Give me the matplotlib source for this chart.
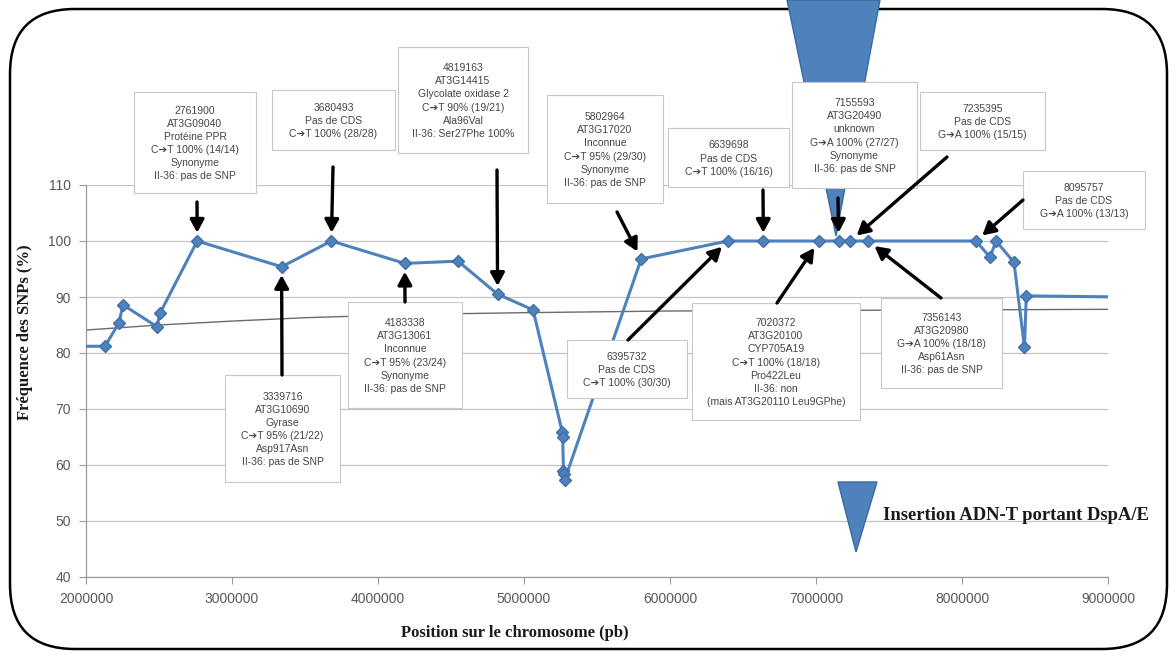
import matplotlib
matplotlib.use("Agg")
from matplotlib import pyplot as plt
from matplotlib.patches import Rectangle, Polygon, FancyBboxPatch
from matplotlib.transforms import Affine2D
from matplotlib.ticker import FuncFormatter

W, H = 1175, 657

# SNP frequency along the chromosome
positions = [1950000, 2130000, 2226000, 2253000, 2486000, 2507000, 2761900,
             3339716, 3680493, 4183338, 4548000, 4819163, 5062000, 5262000,
             5265000, 5270000, 5274000, 5278000, 5802964, 6395732, 6639698,
             7020372, 7155593, 7235395, 7356143, 8095757, 8192000, 8233000,
             8356000, 8428000, 8440000, 9100000]
freqs = [81.2, 81.2, 85.4, 88.6, 84.7, 87.1, 100.0,
         95.4, 100.0, 96.0, 96.4, 90.5, 87.7, 65.9,
         65.0, 59.0, 58.4, 57.3, 96.8, 100.0, 100.0,
         100.0, 100.0, 100.0, 100.0, 100.0, 97.1, 100.0,
         96.2, 81.0, 90.2, 90.0]

# trend line
trend_pos = [2000000, 2500000, 3000000, 3500000, 4000000, 4500000, 5000000,
             6000000, 7000000, 8000000, 9000000]
trend_val = [84.1, 85.0, 85.7, 86.3, 86.7, 87.0, 87.2, 87.5, 87.6, 87.7, 87.8]

xticks = [2000000, 3000000, 4000000, 5000000, 6000000, 7000000, 8000000, 9000000]
yticks = [40, 50, 60, 70, 80, 90, 100, 110]

# annotated SNPs: (position, frequency, label)
snps = [
    (2761900, 100.0, "2761900\nAT3G09040\nProtéine PPR\nC➔T 100% (14/14)\nSynonyme\nII-36: pas de SNP"),
    (3680493, 100.0, "3680493\nPas de CDS\nC➔T 100% (28/28)"),
    (4819163, 90.5, "4819163\nAT3G14415\nGlycolate oxidase 2\nC➔T 90% (19/21)\nAla96Val\nII-36: Ser27Phe 100%"),
    (5802964, 96.8, "5802964\nAT3G17020\nInconnue\nC➔T 95% (29/30)\nSynonyme\nII-36: pas de SNP"),
    (6639698, 100.0, "6639698\nPas de CDS\nC➔T 100% (16/16)"),
    (7155593, 100.0, "7155593\nAT3G20490\nunknown\nG➔A 100% (27/27)\nSynonyme\nII-36: pas de SNP"),
    (7235395, 100.0, "7235395\nPas de CDS\nG➔A 100% (15/15)"),
    (8095757, 100.0, "8095757\nPas de CDS\nG➔A 100% (13/13)"),
    (3339716, 95.4, "3339716\nAT3G10690\nGyrase\nC➔T 95% (21/22)\nAsp917Asn\nII-36: pas de SNP"),
    (4183338, 96.0, "4183338\nAT3G13061\nInconnue\nC➔T 95% (23/24)\nSynonyme\nII-36: pas de SNP"),
    (6395732, 100.0, "6395732\nPas de CDS\nC➔T 100% (30/30)"),
    (7020372, 100.0, "7020372\nAT3G20100\nCYP705A19\nC➔T 100% (18/18)\nPro422Leu\nII-36: non\n(mais AT3G20110 Leu9GPhe)"),
    (7356143, 100.0, "7356143\nAT3G20980\nG➔A 100% (18/18)\nAsp61Asn\nII-36: pas de SNP"),
]

# layout of the callouts in pixels (x0, y0, x1, y1) and arrow tails
boxes = [(134, 92, 256, 193), (272, 90, 395, 150), (398, 47, 528, 153),
         (547, 95, 663, 203), (668, 128, 789, 187), (792, 82, 917, 188),
         (920, 92, 1045, 150), (1023, 171, 1145, 229), (225, 375, 340, 482),
         (348, 302, 462, 408), (567, 340, 687, 398), (692, 303, 860, 420),
         (881, 298, 1002, 388)]
tails = [(197, 202), (333, 167), (497, 170), (617, 212), (763, 190),
         (838, 198), (947, 157), (1023, 200), (282, 375), (405, 302),
         (628, 340), (777, 303), (941, 298)]

blue = "#4F81BD"
serif = ["Liberation Serif", "DejaVu Serif"]
sans = ["Liberation Sans", "DejaVu Sans"]

fig = plt.figure(figsize=(W / 100, H / 100), dpi=100)
px = Affine2D().scale(1 / W, -1 / H).translate(0, 1) + fig.transFigure

ax = fig.add_axes([86 / W, 1 - 577 / H, (1108 - 86) / W, (577 - 185) / H])
ax.set_xlim(2000000, 9000000)
ax.set_ylim(40, 110)
ax.set_xticks(xticks)
ax.set_yticks(yticks)
ax.xaxis.set_major_formatter(FuncFormatter(lambda v, p: "%d" % v))
ax.yaxis.grid(True, color="#c4c4c4", lw=0.9)
ax.set_axisbelow(True)
for s in ["top", "right"]:
    ax.spines[s].set_visible(False)
for s in ["left", "bottom"]:
    ax.spines[s].set_color("#9a9a9a")
    ax.spines[s].set_linewidth(0.9)
ax.tick_params(direction="out", length=5, color="#9a9a9a",
               labelcolor="#595959", labelsize=10, pad=6)
for lab in ax.get_xticklabels() + ax.get_yticklabels():
    lab.set_family(sans)

ax.plot(trend_pos, trend_val, color="#6b6b6b", lw=1.0, zorder=2)
ax.plot(positions, freqs, color=blue, lw=2.2, marker="D", markersize=6.5,
        markerfacecolor=blue, markeredgecolor="#3F6FA8", zorder=4)

# insertion marker (top) and its legend
ax.add_patch(Polygon([(787, 0), (880, 0), (836, 236)], closed=True,
                     transform=px, fc=blue, ec="#3A6AA0", lw=1,
                     zorder=3, clip_on=False))
ax.add_patch(Polygon([(838, 482), (877, 482), (856, 552)], closed=True,
                     transform=px, fc=blue, ec="#3A6AA0", lw=1,
                     zorder=3, clip_on=False))
ax.text(883, 515, "Insertion ADN-T portant DspA/E", transform=px,
        family=serif, fontweight="bold", fontsize=13.4, color="#1a1a1a",
        ha="left", va="center", clip_on=False)

for (pos, freq, label), (x0, y0, x1, y1), tail in zip(snps, boxes, tails):
    ax.add_patch(Rectangle((x0, y0), x1 - x0, y1 - y0, transform=px,
                           fc="white", ec="#c8c8c8", lw=0.8, zorder=6,
                           clip_on=False))
    ax.text((x0 + x1) / 2, (y0 + y1) / 2 + 1, label, transform=px,
            ha="center", va="center", family=sans, fontsize=7.5,
            color="#444444", linespacing=1.38, zorder=7, clip_on=False)
    ax.annotate("", xy=(pos, freq), xycoords="data", xytext=tail,
                textcoords=px,
                arrowprops=dict(arrowstyle="-|>,head_length=0.55,head_width=0.3",
                                color="black", lw=2.4, shrinkA=0, shrinkB=6,
                                mutation_scale=14),
                zorder=8, annotation_clip=False)

fig.text(25, 332, "Fréquence des SNPs (%)", transform=px, rotation=90,
         family=serif, fontweight="bold", fontsize=12, color="#1a1a1a",
         ha="center", va="center")
fig.text(515, 633, "Position sur le chromosome (pb)", transform=px,
         family=serif, fontweight="bold", fontsize=12, color="#1a1a1a",
         ha="center", va="center")

# rounded chart frame
frame = FancyBboxPatch((10, 9), 1157, 640, boxstyle="round,pad=0,rounding_size=65",
                       transform=px, fc="none", ec="black", lw=1.8, zorder=-1)
fig.add_artist(frame)

fig.savefig("out.png", dpi=100)
